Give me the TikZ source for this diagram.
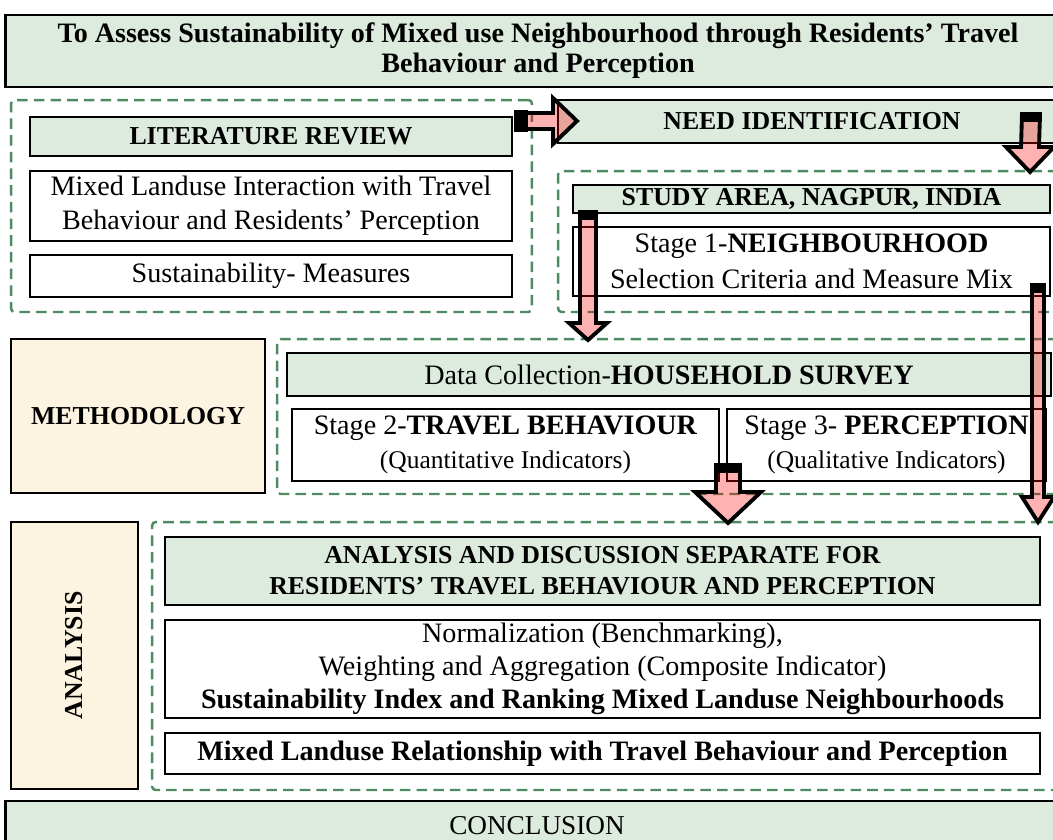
\documentclass[tikz,border=0pt]{standalone}
\usepackage{fontspec}
\setmainfont{Liberation Serif}
\usetikzlibrary{calc}

\definecolor{hdrgreen}{HTML}{DDEBDF}
\definecolor{sidebeige}{HTML}{FDF3E1}
\definecolor{grpgreen}{HTML}{4E8B63}

%% block arrow pointing down: start, tip, shaft half, head half, head length
\newcommand{\blkdown}[5]{%
  \draw[blkarrow] ($(#1)+(-#3,0)$) -- ($(#2)+(-#3,-#5)$) -- ($(#2)+(-#4,-#5)$)
    -- (#2) -- ($(#2)+(#4,-#5)$) -- ($(#2)+(#3,-#5)$) -- ($(#1)+(#3,0)$) -- cycle;
  \fill ($(#1)+(-#3-2,-2)$) rectangle ($(#1)+(#3+2,8)$);
}
%% block arrow pointing right
\newcommand{\blkright}[5]{%
  \draw[blkarrow] ($(#1)+(0,-#3)$) -- ($(#2)+(-#5,-#3)$) -- ($(#2)+(-#5,-#4)$)
    -- (#2) -- ($(#2)+(-#5,#4)$) -- ($(#2)+(-#5,#3)$) -- ($(#1)+(0,#3)$) -- cycle;
  \fill ($(#1)+(-2,-#3-3)$) rectangle ($(#1)+(12,#3+3)$);
}

\begin{document}
\begin{tikzpicture}[x=0.02cm, y=-0.02cm,
    every node/.style={inner sep=0pt, outer sep=0pt},
    box/.style={draw, line width=1.1pt, align=center},
    hdr/.style={box, fill=hdrgreen, font=\fontsize{14.7}{17.6}\selectfont\bfseries},
    plain/.style={box, fill=white, font=\fontsize{16}{19.3}\selectfont},
    side/.style={box, fill=sidebeige, font=\fontsize{14.7}{17.6}\selectfont\bfseries},
    grp/.style={draw=grpgreen, line width=1.4pt, dash pattern=on 6pt off 3.5pt,
                rounded corners=2pt},
    blkarrow/.style={draw=black, line width=2.2pt, fill=red, fill opacity=0.3,
                     line join=miter},
    ind/.style={font=\fontsize{14.5}{17}\selectfont},
  ]
  \useasboundingbox (0,0) rectangle (1053,839);

  %% title
  \node[box, fill=hdrgreen, line width=1.6pt, minimum width=21.32cm, minimum height=1.44cm,
        font=\fontsize{16}{17}\selectfont\bfseries] (title) at (538,51)
    {To Assess Sustainability of Mixed use Neighbourhood through Residents’ Travel\\
     Behaviour and Perception};

  %% literature review
  \node[grp, minimum width=10.42cm, minimum height=4.24cm] (litgrp) at (271.5,206) {};
  \node[hdr, minimum width=9.64cm, minimum height=0.78cm] (lit) at (271,136.5)
    {LITERATURE REVIEW};
  \node[plain, minimum width=9.64cm, minimum height=1.40cm] (mix) at (271,206)
    {Mixed Landuse Interaction with Travel\\Behaviour and Residents’ Perception};
  \node[plain, minimum width=9.64cm, minimum height=0.84cm] (meas) at (271,276)
    {Sustainability- Measures};

  %% need identification
  \node[hdr, minimum width=10.16cm, minimum height=0.86cm] (need) at (812,121.5)
    {NEED IDENTIFICATION};

  %% study area
  \node[grp, minimum width=10.08cm, minimum height=2.82cm] (studygrp) at (810,241.5) {};
  \node[hdr, minimum width=9.54cm, minimum height=0.56cm] (study) at (811.5,199)
    {STUDY AREA, NAGPUR, INDIA};
  \node[plain, minimum width=9.54cm, minimum height=1.38cm, font=\fontsize{16}{20.5}\selectfont]
    (stage1) at (811.5,261.5)
    {Stage 1-\textbf{NEIGHBOURHOOD}\\Selection Criteria and Measure Mix};

  %% methodology
  \node[side, minimum width=5.08cm, minimum height=3.08cm] (meth) at (138,416) {METHODOLOGY};
  \node[grp, minimum width=15.7cm, minimum height=3.1cm] (methgrp) at (669.5,416.5) {};
  \node[box, fill=hdrgreen, font=\fontsize{16}{19}\selectfont,
        minimum width=15.28cm, minimum height=0.86cm] (survey) at (669,374.5)
    {Data Collection-\textbf{HOUSEHOLD SURVEY}};
  \node[plain, minimum width=8.54cm, minimum height=1.44cm] (stage2) at (505.5,445)
    {Stage 2-\textbf{TRAVEL BEHAVIOUR}\\{\fontsize{14.5}{17}\selectfont(Quantitative Indicators)}};
  \node[plain, minimum width=6.38cm, minimum height=1.44cm] (stage3) at (886.5,445)
    {Stage 3- \textbf{PERCEPTION}\\{\fontsize{14.5}{17}\selectfont(Qualitative Indicators)}};

  %% analysis
  \node[side, minimum width=2.54cm, minimum height=5.34cm] (ana) at (74.5,655.5) {};
  \node[rotate=90, font=\fontsize{14.7}{17.6}\selectfont\bfseries] (anatext)
    at (ana.center) {ANALYSIS};
  \node[grp, minimum width=18.2cm, minimum height=5.36cm] (anagrp) at (607,656) {};
  \node[hdr, minimum width=17.5cm, minimum height=1.36cm] (disc) at (602.5,571)
    {ANALYSIS AND DISCUSSION SEPARATE FOR\\RESIDENTS’ TRAVEL BEHAVIOUR AND PERCEPTION};
  \node[plain, minimum width=17.5cm, minimum height=1.96cm, font=\fontsize{16}{18.8}\selectfont]
    (norm) at (602.5,669)
    {Normalization (Benchmarking),\\Weighting and Aggregation (Composite Indicator)\\
     \textbf{Sustainability Index and Ranking Mixed Landuse Neighbourhoods}};
  \node[plain, minimum width=17.5cm, minimum height=0.82cm,
        font=\fontsize{16}{19}\selectfont\bfseries] (rel) at (602.5,753.5)
    {Mixed Landuse Relationship with Travel Behaviour and Perception};

  %% conclusion
  \node[box, fill=hdrgreen, line width=1.6pt, minimum width=21.28cm, minimum height=1.0cm,
        font=\fontsize{15.5}{18}\selectfont] (concl) at (537,826) {CONCLUSION};

  %% block arrows
  \coordinate (a1s) at (516,121);
  \coordinate (a1e) at (577,121);
  \coordinate (a2s) at (1031,114);
  \coordinate (a2e) at (1030,172);
  \coordinate (a3s) at (588,212);
  \coordinate (a3e) at (588,340);
  \coordinate (a4s) at (1038,285);
  \coordinate (a4e) at (1038,522);
  \coordinate (a5s) at (728,465);
  \coordinate (a5e) at (728,523);
  \blkright{a1s}{a1e}{8}{23}{24}
  \blkdown{a2s}{a2e}{9}{24}{25}
  \blkdown{a3s}{a3e}{8}{19}{17}
  \blkdown{a4s}{a4e}{6}{16}{25}
  \blkdown{a5s}{a5e}{12}{33}{31}
\end{tikzpicture}
\end{document}
